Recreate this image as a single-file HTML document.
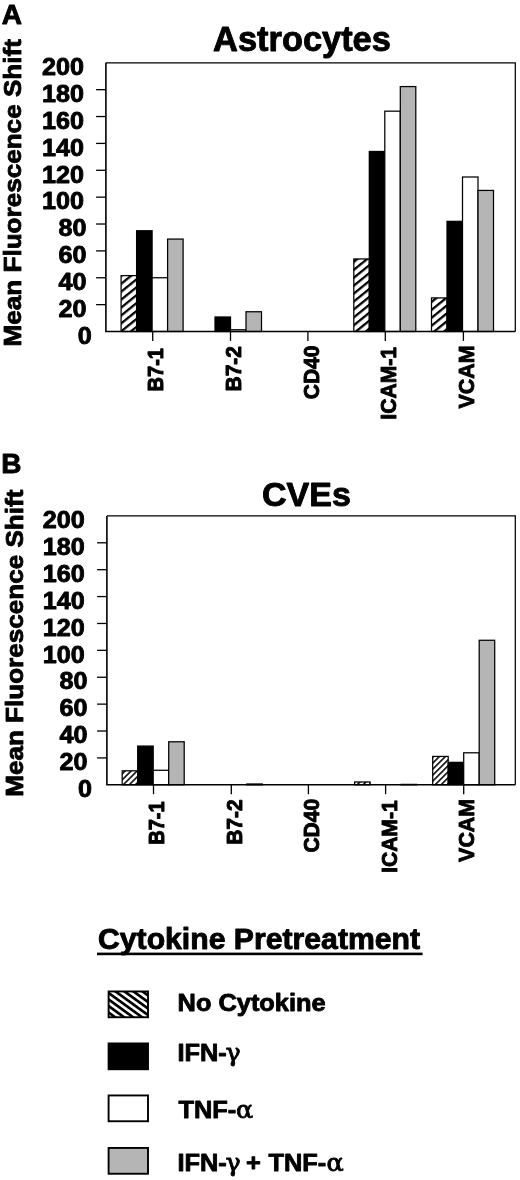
<!DOCTYPE html><html><head><meta charset="utf-8"><title>Figure</title>
<style>html,body{margin:0;padding:0;background:#fff}svg{display:block}text{font-family:'Liberation Sans', sans-serif;font-weight:bold;fill:#000;stroke:#000;stroke-width:0.9px;stroke-linejoin:round}.sym{font-family:"DejaVu Serif",serif;font-weight:normal;stroke-width:0.9px}</style></head><body>
<svg width="520" height="1180" viewBox="0 0 520 1180">
<defs>
<pattern id="hb" patternUnits="userSpaceOnUse" width="8" height="8" patternTransform="rotate(-39) scale(0.77)"><rect width="8" height="8" fill="#fff"/><rect y="0" width="8" height="2.95" fill="#000"/></pattern>
<pattern id="hb2" patternUnits="userSpaceOnUse" width="8" height="8" patternTransform="translate(0 1.5) rotate(-45) scale(0.53)"><rect width="8" height="8" fill="#fff"/><rect y="0" width="8" height="2.9" fill="#000"/></pattern>
<pattern id="hl" patternUnits="userSpaceOnUse" width="8" height="8" patternTransform="translate(110 992.3) rotate(36) scale(0.66)"><rect width="8" height="8" fill="#fff"/><rect y="0" width="8" height="4.1" fill="#000"/></pattern>
</defs>
<rect width="520" height="1180" fill="#fff"/>
<rect x="121.10" y="275.61" width="15.5" height="55.89" fill="url(#hb)" stroke="#000" stroke-width="1.25"/>
<rect x="136.60" y="230.74" width="15.5" height="100.76" fill="#000" stroke="#000" stroke-width="1.25"/>
<rect x="152.10" y="277.76" width="15.5" height="53.74" fill="#fff" stroke="#000" stroke-width="1.25"/>
<rect x="167.60" y="239.07" width="15.5" height="92.43" fill="#b5b5b5" stroke="#000" stroke-width="1.25"/>
<rect x="215.00" y="316.99" width="15.5" height="14.51" fill="#000" stroke="#000" stroke-width="1.25"/>
<rect x="230.50" y="329.75" width="15.5" height="1.75" fill="#fff" stroke="#000" stroke-width="1.25"/>
<rect x="246.00" y="311.75" width="15.5" height="19.75" fill="#b5b5b5" stroke="#000" stroke-width="1.25"/>
<rect x="353.80" y="258.95" width="15.5" height="72.55" fill="url(#hb)" stroke="#000" stroke-width="1.25"/>
<rect x="369.30" y="151.47" width="15.5" height="180.03" fill="#000" stroke="#000" stroke-width="1.25"/>
<rect x="384.80" y="111.17" width="15.5" height="220.33" fill="#fff" stroke="#000" stroke-width="1.25"/>
<rect x="400.30" y="86.58" width="15.5" height="244.92" fill="#b5b5b5" stroke="#000" stroke-width="1.25"/>
<rect x="431.50" y="297.91" width="15.5" height="33.59" fill="url(#hb)" stroke="#000" stroke-width="1.25"/>
<rect x="447.00" y="221.33" width="15.5" height="110.17" fill="#000" stroke="#000" stroke-width="1.25"/>
<rect x="462.50" y="177.00" width="15.5" height="154.50" fill="#fff" stroke="#000" stroke-width="1.25"/>
<rect x="478.00" y="190.43" width="15.5" height="141.07" fill="#b5b5b5" stroke="#000" stroke-width="1.25"/>
<path d="M105.9 62.8H515.3V331.5" fill="none" stroke="#000" stroke-width="1.25"/>
<path d="M105.9 62.8V331.5H515.3" fill="none" stroke="#000" stroke-width="1.6"/>
<text transform="translate(91.70 343.80) scale(1.015 1)" text-anchor="end" font-size="24.8">0</text>
<line x1="96.10000000000001" x2="105.9" y1="304.63" y2="304.63" stroke="#000" stroke-width="1.3"/>
<text transform="translate(86.60 316.93) scale(1.015 1)" text-anchor="end" font-size="24.8">20</text>
<line x1="96.10000000000001" x2="105.9" y1="277.76" y2="277.76" stroke="#000" stroke-width="1.3"/>
<text transform="translate(86.60 290.06) scale(1.015 1)" text-anchor="end" font-size="24.8">40</text>
<line x1="96.10000000000001" x2="105.9" y1="250.89" y2="250.89" stroke="#000" stroke-width="1.3"/>
<text transform="translate(86.60 263.19) scale(1.015 1)" text-anchor="end" font-size="24.8">60</text>
<line x1="96.10000000000001" x2="105.9" y1="224.02" y2="224.02" stroke="#000" stroke-width="1.3"/>
<text transform="translate(86.60 236.32) scale(1.015 1)" text-anchor="end" font-size="24.8">80</text>
<line x1="96.10000000000001" x2="105.9" y1="197.15" y2="197.15" stroke="#000" stroke-width="1.3"/>
<text transform="translate(83.90 209.45) scale(1.015 1)" text-anchor="end" font-size="24.8">100</text>
<line x1="96.10000000000001" x2="105.9" y1="170.28" y2="170.28" stroke="#000" stroke-width="1.3"/>
<text transform="translate(83.90 182.58) scale(1.015 1)" text-anchor="end" font-size="24.8">120</text>
<line x1="96.10000000000001" x2="105.9" y1="143.41" y2="143.41" stroke="#000" stroke-width="1.3"/>
<text transform="translate(83.90 155.71) scale(1.015 1)" text-anchor="end" font-size="24.8">140</text>
<line x1="96.10000000000001" x2="105.9" y1="116.54" y2="116.54" stroke="#000" stroke-width="1.3"/>
<text transform="translate(83.90 128.84) scale(1.015 1)" text-anchor="end" font-size="24.8">160</text>
<line x1="96.10000000000001" x2="105.9" y1="89.67" y2="89.67" stroke="#000" stroke-width="1.3"/>
<text transform="translate(83.90 101.97) scale(1.015 1)" text-anchor="end" font-size="24.8">180</text>
<text transform="translate(83.90 75.10) scale(1.015 1)" text-anchor="end" font-size="24.8">200</text>
<line x1="152.7" x2="152.7" y1="331.5" y2="340.9" stroke="#000" stroke-width="1.3"/>
<text transform="translate(163.20 348.00) rotate(-90) scale(1 1.12)" text-anchor="end" font-size="20.1">B7-1</text>
<line x1="230.5" x2="230.5" y1="331.5" y2="340.9" stroke="#000" stroke-width="1.3"/>
<text transform="translate(241.30 346.00) rotate(-90) scale(1 1.07)" text-anchor="end" font-size="21">B7-2</text>
<line x1="307.9" x2="307.9" y1="331.5" y2="340.9" stroke="#000" stroke-width="1.3"/>
<text transform="translate(318.80 345.60) rotate(-90) scale(1 1.07)" text-anchor="end" font-size="21">CD40</text>
<line x1="385.3" x2="385.3" y1="331.5" y2="340.9" stroke="#000" stroke-width="1.3"/>
<text transform="translate(396.35 347.00) rotate(-90) scale(1 1.07)" text-anchor="end" font-size="21.1">ICAM-1</text>
<line x1="463.4" x2="463.4" y1="331.5" y2="340.9" stroke="#000" stroke-width="1.3"/>
<text transform="translate(474.10 345.50) rotate(-90) scale(1 1.045)" text-anchor="end" font-size="21.45">VCAM</text>
<text transform="translate(20.9 192.8) rotate(-90) scale(1 0.95)" text-anchor="middle" font-size="26.1">Mean Fluorescence Shift</text>
<text x="302.0" y="50.9" text-anchor="middle" font-size="34.4">Astrocytes</text>
<text x="1.7" y="24.2" font-size="28">A</text>
<rect x="122.20" y="770.82" width="15.5" height="13.98" fill="url(#hb2)" stroke="#000" stroke-width="1.25"/>
<rect x="137.70" y="746.08" width="15.5" height="38.72" fill="#000" stroke="#000" stroke-width="1.25"/>
<rect x="153.20" y="770.28" width="15.5" height="14.52" fill="#fff" stroke="#000" stroke-width="1.25"/>
<rect x="168.70" y="741.78" width="15.5" height="43.02" fill="#b5b5b5" stroke="#000" stroke-width="1.25"/>
<rect x="246.80" y="783.99" width="15.5" height="0.81" fill="#b5b5b5" stroke="#000" stroke-width="1.25"/>
<rect x="354.60" y="781.98" width="15.5" height="2.82" fill="url(#hb2)" stroke="#000" stroke-width="1.25"/>
<rect x="401.10" y="784.40" width="15.5" height="0.40" fill="#b5b5b5" stroke="#000" stroke-width="1.25"/>
<rect x="432.70" y="756.43" width="15.5" height="28.37" fill="url(#hb2)" stroke="#000" stroke-width="1.25"/>
<rect x="448.20" y="762.35" width="15.5" height="22.45" fill="#000" stroke="#000" stroke-width="1.25"/>
<rect x="463.70" y="752.80" width="15.5" height="32.00" fill="#fff" stroke="#000" stroke-width="1.25"/>
<rect x="479.20" y="640.27" width="15.5" height="144.53" fill="#b5b5b5" stroke="#000" stroke-width="1.25"/>
<path d="M106.9 515.9H515.3V784.8" fill="none" stroke="#000" stroke-width="1.25"/>
<path d="M106.9 515.9V784.8H515.3" fill="none" stroke="#000" stroke-width="1.6"/>
<text transform="translate(92.00 797.00) scale(1.015 1)" text-anchor="end" font-size="24.8">0</text>
<line x1="97.10000000000001" x2="106.9" y1="757.91" y2="757.91" stroke="#000" stroke-width="1.3"/>
<text transform="translate(87.50 770.11) scale(1.015 1)" text-anchor="end" font-size="24.8">20</text>
<line x1="97.10000000000001" x2="106.9" y1="731.02" y2="731.02" stroke="#000" stroke-width="1.3"/>
<text transform="translate(87.50 743.22) scale(1.015 1)" text-anchor="end" font-size="24.8">40</text>
<line x1="97.10000000000001" x2="106.9" y1="704.13" y2="704.13" stroke="#000" stroke-width="1.3"/>
<text transform="translate(87.50 716.33) scale(1.015 1)" text-anchor="end" font-size="24.8">60</text>
<line x1="97.10000000000001" x2="106.9" y1="677.24" y2="677.24" stroke="#000" stroke-width="1.3"/>
<text transform="translate(87.50 689.44) scale(1.015 1)" text-anchor="end" font-size="24.8">80</text>
<line x1="97.10000000000001" x2="106.9" y1="650.35" y2="650.35" stroke="#000" stroke-width="1.3"/>
<text transform="translate(84.80 662.55) scale(1.015 1)" text-anchor="end" font-size="24.8">100</text>
<line x1="97.10000000000001" x2="106.9" y1="623.46" y2="623.46" stroke="#000" stroke-width="1.3"/>
<text transform="translate(84.80 635.66) scale(1.015 1)" text-anchor="end" font-size="24.8">120</text>
<line x1="97.10000000000001" x2="106.9" y1="596.57" y2="596.57" stroke="#000" stroke-width="1.3"/>
<text transform="translate(84.80 608.77) scale(1.015 1)" text-anchor="end" font-size="24.8">140</text>
<line x1="97.10000000000001" x2="106.9" y1="569.68" y2="569.68" stroke="#000" stroke-width="1.3"/>
<text transform="translate(84.80 581.88) scale(1.015 1)" text-anchor="end" font-size="24.8">160</text>
<line x1="97.10000000000001" x2="106.9" y1="542.79" y2="542.79" stroke="#000" stroke-width="1.3"/>
<text transform="translate(84.80 554.99) scale(1.015 1)" text-anchor="end" font-size="24.8">180</text>
<text transform="translate(84.80 528.10) scale(1.015 1)" text-anchor="end" font-size="24.8">200</text>
<line x1="153.5" x2="153.5" y1="784.8" y2="794.1999999999999" stroke="#000" stroke-width="1.3"/>
<text transform="translate(164.00 801.30) rotate(-90) scale(1 1.12)" text-anchor="end" font-size="20.1">B7-1</text>
<line x1="231.3" x2="231.3" y1="784.8" y2="794.1999999999999" stroke="#000" stroke-width="1.3"/>
<text transform="translate(242.10 799.30) rotate(-90) scale(1 1.07)" text-anchor="end" font-size="21">B7-2</text>
<line x1="308.4" x2="308.4" y1="784.8" y2="794.1999999999999" stroke="#000" stroke-width="1.3"/>
<text transform="translate(319.30 798.90) rotate(-90) scale(1 1.07)" text-anchor="end" font-size="21">CD40</text>
<line x1="385.6" x2="385.6" y1="784.8" y2="794.1999999999999" stroke="#000" stroke-width="1.3"/>
<text transform="translate(396.65 800.30) rotate(-90) scale(1 1.07)" text-anchor="end" font-size="21.1">ICAM-1</text>
<line x1="463.7" x2="463.7" y1="784.8" y2="794.1999999999999" stroke="#000" stroke-width="1.3"/>
<text transform="translate(474.40 798.80) rotate(-90) scale(1 1.045)" text-anchor="end" font-size="21.45">VCAM</text>
<text transform="translate(23.3 643.2) rotate(-90) scale(1 0.95)" text-anchor="middle" font-size="26.1">Mean Fluorescence Shift</text>
<text x="306.4" y="506.4" text-anchor="middle" font-size="34">CVEs</text>
<text x="1.2" y="472.9" font-size="28">B</text>
<text transform="translate(98 949.2) scale(1 0.95)" font-size="30.2">Cytokine Pretreatment</text>
<rect x="97" y="952.6" width="325.6" height="2.6" fill="#000"/>
<rect x="108.6" y="991.45" width="39.4" height="25.8" fill="url(#hl)" stroke="#000" stroke-width="1.9"/>
<text transform="translate(0 1010.9) scale(1 0.965)" font-size="25.4"><tspan x="177.6">No Cytokine</tspan></text>
<rect x="108.6" y="1043.45" width="39.4" height="25.8" fill="#000" stroke="#000" stroke-width="1.9"/>
<text transform="translate(0 1061.2) scale(1 0.965)" font-size="25.4"><tspan x="177.4">IFN-</tspan><tspan class="sym" x="225.4" font-size="25.5">γ</tspan></text>
<rect x="108.6" y="1095.45" width="39.4" height="25.8" fill="#fff" stroke="#000" stroke-width="1.9"/>
<text transform="translate(0 1118.2) scale(1 0.965)" font-size="25.4"><tspan x="178.4">TNF-</tspan><tspan class="sym" x="236.0" font-size="25.5">α</tspan></text>
<rect x="108.6" y="1147.95" width="39.4" height="25.8" fill="#b5b5b5" stroke="#000" stroke-width="1.9"/>
<text transform="translate(0 1171.0) scale(1 0.965)" font-size="25.4"><tspan x="177.4">IFN-</tspan><tspan class="sym" x="225.4" font-size="25.5">γ</tspan><tspan x="246">+</tspan><tspan x="268.4">TNF-</tspan><tspan class="sym" x="326.4" font-size="25.5">α</tspan></text>
</svg></body></html>
